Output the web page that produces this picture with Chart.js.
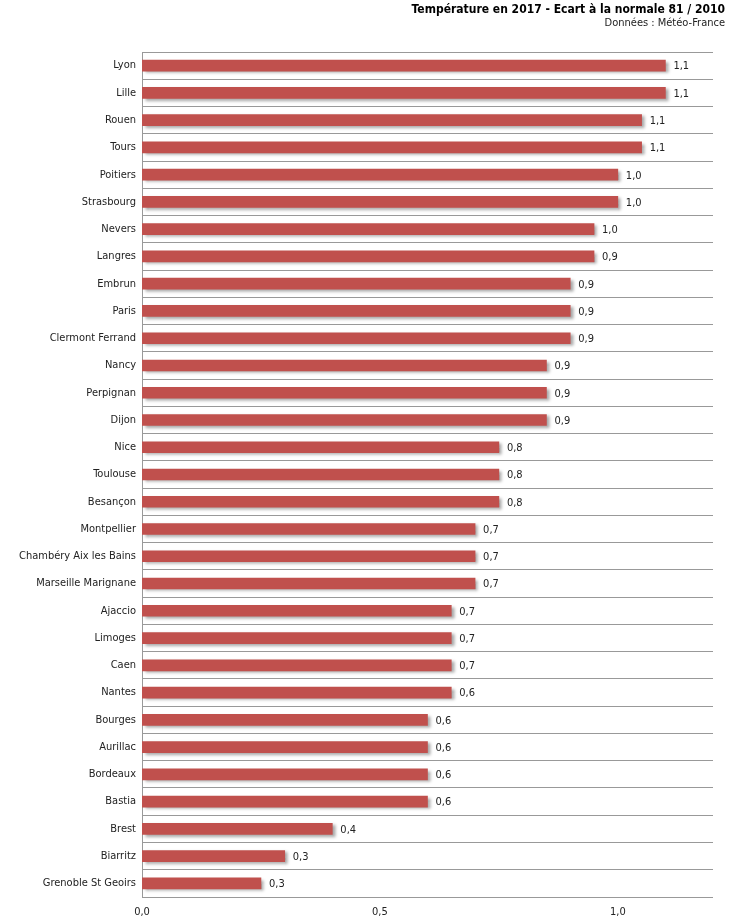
<!DOCTYPE html>
<html>
<head>
<meta charset="utf-8">
<script src="https://cdn.jsdelivr.net/npm/chart.js@4"></script>
<style>
  body { margin: 0; background: #fff; }
  #wrap { width: 730px; height: 921px; }
</style>
</head>
<body>
<div id="wrap"><canvas id="chart"></canvas></div>
<script>
// Stations, deviation values and printed labels
const stations = ['Lyon', 'Lille', 'Rouen', 'Tours', 'Poitiers', 'Strasbourg', 'Nevers', 'Langres', 'Embrun', 'Paris',
    'Clermont Ferrand', 'Nancy', 'Perpignan', 'Dijon', 'Nice', 'Toulouse', 'Besançon', 'Montpellier',
    'Chambéry Aix les Bains', 'Marseille Marignane', 'Ajaccio', 'Limoges', 'Caen', 'Nantes', 'Bourges',
    'Aurillac', 'Bordeaux', 'Bastia', 'Brest', 'Biarritz', 'Grenoble St Geoirs'];
const deviations = [1.10, 1.10, 1.05, 1.05, 1.00, 1.00, 0.95, 0.95, 0.90, 0.90,
    0.90, 0.85, 0.85, 0.85, 0.75, 0.75, 0.75, 0.70,
    0.70, 0.70, 0.65, 0.65, 0.65, 0.65, 0.60,
    0.60, 0.60, 0.60, 0.40, 0.30, 0.25];
const valueLabels = ['1,1', '1,1', '1,1', '1,1', '1,0', '1,0', '1,0', '0,9', '0,9', '0,9',
    '0,9', '0,9', '0,9', '0,9', '0,8', '0,8', '0,8', '0,7',
    '0,7', '0,7', '0,7', '0,7', '0,7', '0,6', '0,6',
    '0,6', '0,6', '0,6', '0,4', '0,3', '0,3'];
const xTicks = [0, 0.5, 1.0];

const FONT = 'Tahoma, "DejaVu Sans Condensed", "Liberation Sans", sans-serif';

// header text in the top right corner
const headerPlugin = {
    id: 'header',
    afterDraw(chart) {
        const ctx = chart.ctx;
        ctx.save();
        ctx.textAlign = 'right';
        ctx.textBaseline = 'alphabetic';
        ctx.fillStyle = '#000';
        ctx.font = 'bold 12px ' + FONT;
        ctx.fillText('Température en 2017 - Ecart à la normale 81 / 2010', 725, 13);
        ctx.font = '11px ' + FONT;
        ctx.fillStyle = '#222';
        ctx.fillText('Données : Météo-France', 725, 26);
        ctx.restore();
    }
};

// bar shadow
const shadowPlugin = {
    id: 'barShadow',
    beforeDatasetDraw(chart) {
        const ctx = chart.ctx;
        ctx.save();
        ctx.shadowColor = 'rgba(0,0,0,0.35)';
        ctx.shadowBlur = 3;
        ctx.shadowOffsetX = 3;
        ctx.shadowOffsetY = 2;
    },
    afterDatasetDraw(chart) {
        chart.ctx.restore();
    }
};

// value labels at the end of each bar
const valueLabelPlugin = {
    id: 'valueLabels',
    afterDatasetsDraw(chart) {
        const ctx = chart.ctx;
        const meta = chart.getDatasetMeta(0);
        ctx.save();
        ctx.font = '11px ' + FONT;
        ctx.fillStyle = '#222';
        ctx.textAlign = 'left';
        ctx.textBaseline = 'middle';
        meta.data.forEach((bar, i) => {
            ctx.fillText(valueLabels[i], bar.x + 8, bar.y + 1);
        });
        ctx.restore();
    }
};

new Chart(document.getElementById('chart'), {
    type: 'bar',
    data: {
        labels: stations,
        datasets: [{
            data: deviations,
            backgroundColor: '#C0504D',
            borderWidth: 0,
            barThickness: 11
        }]
    },
    plugins: [headerPlugin, shadowPlugin, valueLabelPlugin],
    options: {
        indexAxis: 'y',
        responsive: true,
        maintainAspectRatio: false,
        animation: false,
        devicePixelRatio: 1,
        layout: { padding: { top: 52, right: 17, left: 0, bottom: 0 } },
        plugins: { legend: { display: false }, tooltip: { enabled: false } },
        scales: {
            x: {
                min: 0,
                max: 1.2,
                afterBuildTicks: scale => { scale.ticks = xTicks.map(v => ({ value: v })); },
                afterFit: scale => { scale.height = 24; },
                grid: { display: false, drawTicks: false },
                border: { display: false },
                ticks: {
                    color: '#222',
                    padding: 9,
                    font: { family: FONT, size: 11 },
                    callback: v => v.toFixed(1).replace('.', ',')
                }
            },
            y: {
                afterFit: scale => { scale.width = 142; },
                grid: { offset: true, color: '#999', drawTicks: false, lineWidth: 1 },
                border: { display: true, color: '#999' },
                ticks: {
                    color: '#222',
                    padding: 6,
                    font: { family: FONT, size: 11 }
                }
            }
        }
    }
});
</script>
</body>
</html>
